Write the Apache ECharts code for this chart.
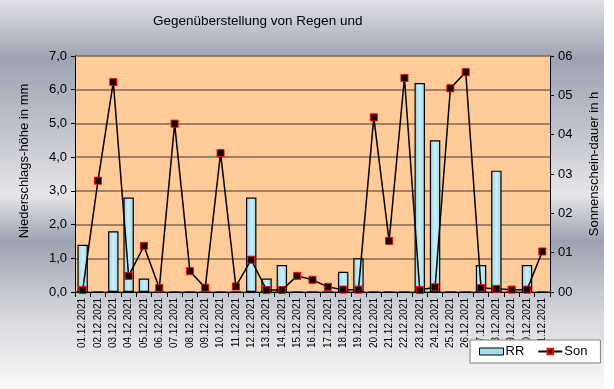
<!DOCTYPE html>
<html>
<head>
<meta charset="utf-8">
<script src="https://cdn.jsdelivr.net/npm/echarts@6/dist/echarts.min.js"></script>
<style>
html,body{margin:0;padding:0;background:#fff;}
#c{width:614px;height:389px;}
</style>
</head>
<body>
<div id="c"></div>
<script>
const titleText = 'Gegenüberstellung von Regen und';
const leftName = 'Niederschlags-höhe in mm';
const rightName = 'Sonnenschein-dauer in h';
const categories = ['01.12.2021','02.12.2021','03.12.2021','04.12.2021','05.12.2021','06.12.2021','07.12.2021','08.12.2021','09.12.2021','10.12.2021','11.12.2021','12.12.2021','13.12.2021','14.12.2021','15.12.2021','16.12.2021','17.12.2021','18.12.2021','19.12.2021','20.12.2021','21.12.2021','22.12.2021','23.12.2021','24.12.2021','25.12.2021','26.12.2021','27.12.2021','28.12.2021','29.12.2021','30.12.2021','31.12.2021'];
const rr = [1.4,0,1.8,2.8,0.4,0,0,0,0,0,0,2.8,0.4,0.8,0,0,0,0.6,1.0,0,0,0,6.2,4.5,0,0,0.8,3.6,0,0.8,0];
const son = [0.05,2.83,5.34,0.41,1.17,0.1,4.28,0.53,0.11,3.53,0.14,0.82,0.05,0.05,0.41,0.31,0.13,0.06,0.06,4.44,1.3,5.44,0.05,0.12,5.18,5.59,0.1,0.08,0.06,0.06,1.03];
const leftTicks = {min:0, max:7, interval:1};
const rightTicks = {min:0, max:6, interval:1};

const chart = echarts.init(document.getElementById('c'));
const font = 'Liberation Sans, Arial, sans-serif';
chart.setOption({
  animation:false,
  textStyle:{fontFamily:font},
  graphic:[{
    type:'rect', z:-10, silent:true,
    shape:{x:0,y:0,width:604,height:389},
    style:{fill:new echarts.graphic.LinearGradient(0,0,0,1,[
      {offset:0,color:'#e0e0e4'},
      {offset:0.15,color:'#9ea3b3'},
      {offset:0.35,color:'#c4c6ce'},
      {offset:0.5,color:'#e6e6e8'},
      {offset:0.62,color:'#9da2b2'},
      {offset:0.8,color:'#d4d5da'},
      {offset:1,color:'#fafafa'}
    ])}
  }],
  title:{
    text:titleText, left:148, top:9,
    textStyle:{fontSize:13.5,fontWeight:500,color:'#000',fontFamily:font}
  },
  legend:{
    left:470, top:340,
    backgroundColor:'#fff', borderColor:'#808080', borderWidth:1,
    padding:[5,13,5,9], itemGap:13,
    itemWidth:24, itemHeight:7,
    textStyle:{fontSize:13,color:'#000',padding:[0,0,0,-3]},
    data:[
      {name:'RR', icon:'rect', itemStyle:{color:'#a8dcea',borderColor:'#000',borderWidth:1}},
      {name:'Son'}
    ]
  },
  grid:{left:75, right:64, top:56, bottom:97, outerBoundsMode:'none',
        show:true, backgroundColor:'#ffcc99', borderWidth:0},
  xAxis:{
    type:'category', data:categories, boundaryGap:true,
    axisLine:{lineStyle:{color:'#000',width:1}},
    axisTick:{show:true,length:5,lineStyle:{color:'#000'}},
    axisLabel:{rotate:90,fontSize:10,color:'#000',margin:6,interval:0}
  },
  yAxis:[{
    type:'value', min:leftTicks.min, max:leftTicks.max, interval:leftTicks.interval,
    name:leftName, nameLocation:'middle', nameGap:44, nameRotate:90,
    nameTextStyle:{fontSize:13,color:'#000',padding:[0,0,0,26]},
    axisLine:{show:true,lineStyle:{color:'#000'}},
    axisTick:{show:true,length:4,lineStyle:{color:'#000'}},
    axisLabel:{fontSize:13,color:'#000',margin:8,formatter:v=>v.toFixed(1).replace('.',',')},
    splitLine:{show:true,lineStyle:{color:'#806650',width:1.5}}
  },{
    type:'value', min:rightTicks.min, max:rightTicks.max, interval:rightTicks.interval,
    name:rightName, nameLocation:'middle', nameGap:38, nameRotate:90,
    nameTextStyle:{fontSize:13,color:'#000',padding:[0,0,0,20]},
    axisLine:{show:true,lineStyle:{color:'#000'}},
    axisTick:{show:true,length:4,lineStyle:{color:'#000'}},
    axisLabel:{fontSize:13,color:'#000',margin:8,formatter:v=>(v<10?'0':'')+v},
    splitLine:{show:false}
  }],
  series:[{
    name:'RR', type:'bar', yAxisIndex:0, data:rr, barWidth:'68%',
    itemStyle:{
      color:new echarts.graphic.LinearGradient(0,0,1,0,[
        {offset:0,color:'#96d4e6'},{offset:0.5,color:'#cdeef6'},{offset:1,color:'#9dd8e8'}]),
      borderColor:'#000', borderWidth:1.2
    }
  },{
    name:'Son', type:'line', yAxisIndex:1, data:son,
    symbol:'rect', symbolSize:7,
    lineStyle:{color:'#000',width:1.5},
    itemStyle:{color:'#000',borderColor:'#ff0000',borderWidth:1}
  }]
});
</script>
</body>
</html>
